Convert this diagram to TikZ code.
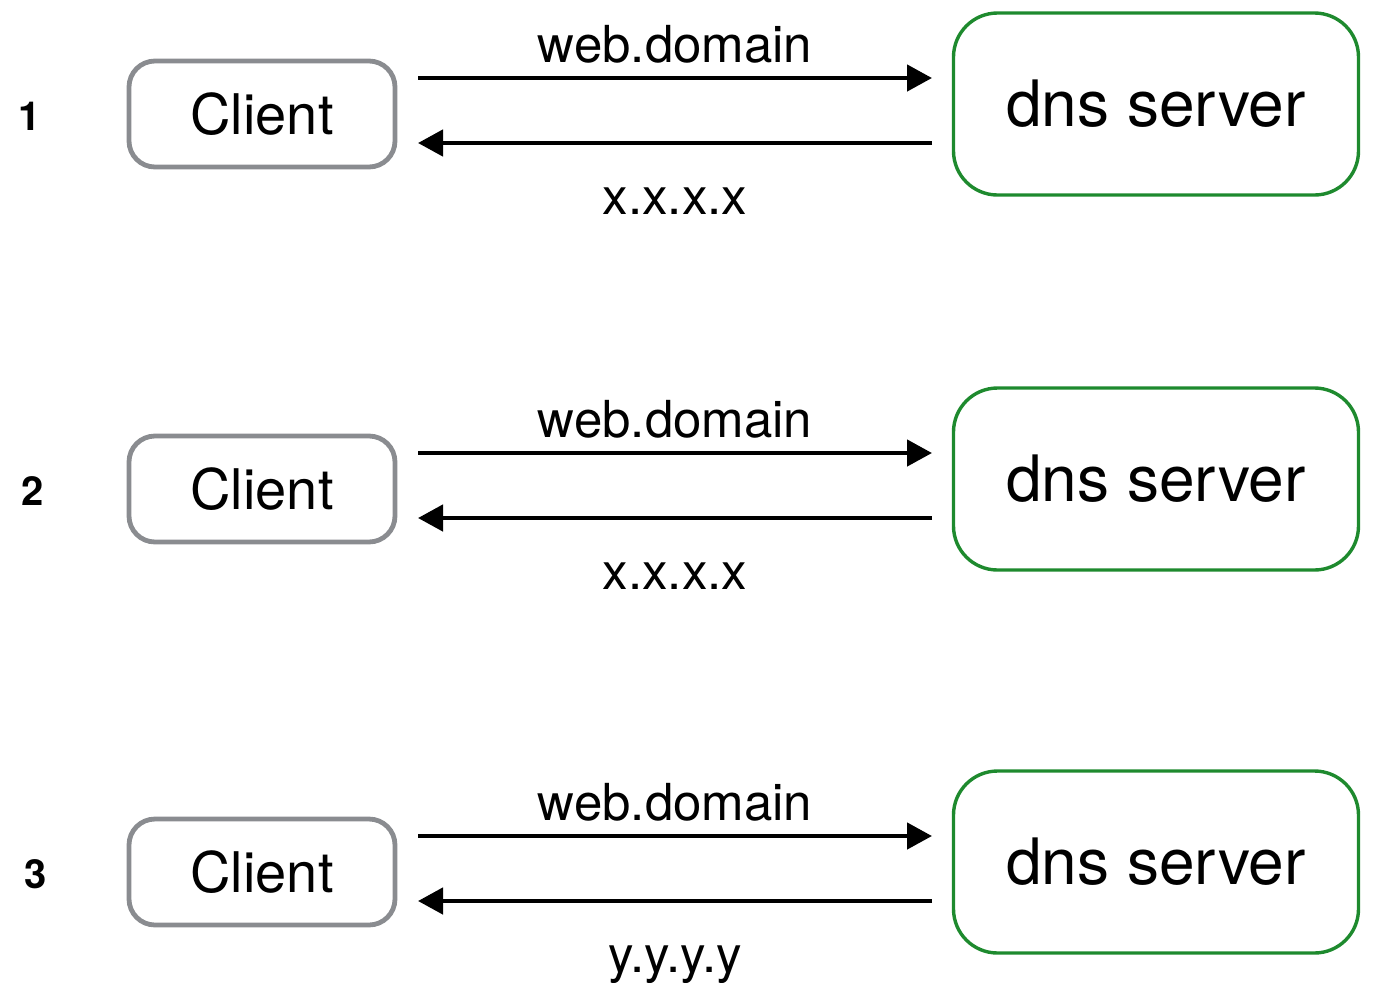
\documentclass[tikz,border=0pt]{standalone}
\usepackage{fontspec}
\setmainfont{TeX Gyre Heros}
\usetikzlibrary{arrows.meta}
\definecolor{boxgray}{HTML}{8A8C90}
\definecolor{dnsgreen}{HTML}{1E8A2E}

\begin{document}
\begin{tikzpicture}[x=0.5pt,y=-0.5pt,
    client/.style={draw=boxgray, line width=2.4pt, rounded corners=13pt,
      minimum width=133pt, minimum height=53pt, font=\fontsize{28}{34}\selectfont},
    server/.style={draw=dnsgreen, line width=1.7pt, rounded corners=22pt,
      minimum width=202.5pt, minimum height=91pt, font=\fontsize{32}{38}\selectfont},
    msg/.style={line width=2.3pt, -{Triangle[length=12.5pt,width=13pt]}},
    lbl/.style={inner sep=0pt, font=\fontsize{25.5}{30}\selectfont},
    stepno/.style={font=\bfseries\fontsize{20}{24}\selectfont}]
    \useasboundingbox (0,0) rectangle (1373,982);
    \foreach \i/\dy/\nx/\ip in {1/0/30/x.x.x.x, 2/375/33/x.x.x.x, 3/758/36/y.y.y.y}{
      \node[stepno] (n\i) at (\nx,116+\dy) {\i}; % step number
      \node[client] (c\i) at (262,114+\dy) {Client};
      \node[server] (s\i) at (1156,104+\dy) {dns server};
      \coordinate (q\i) at (418,78+\dy);  % query start
      \coordinate (qe\i) at (932,78+\dy); % query end
      \coordinate (r\i) at (932,143+\dy); % reply start
      \coordinate (re\i) at (418,143+\dy); % reply end
      \draw[msg] (q\i) -- node[lbl, above=6pt] (w\i) {web.domain} (qe\i); % query
      \draw[msg] (r\i) -- node[lbl, below=21pt] (a\i) {\ip} (re\i); % answer
    }
\end{tikzpicture}
\end{document}
